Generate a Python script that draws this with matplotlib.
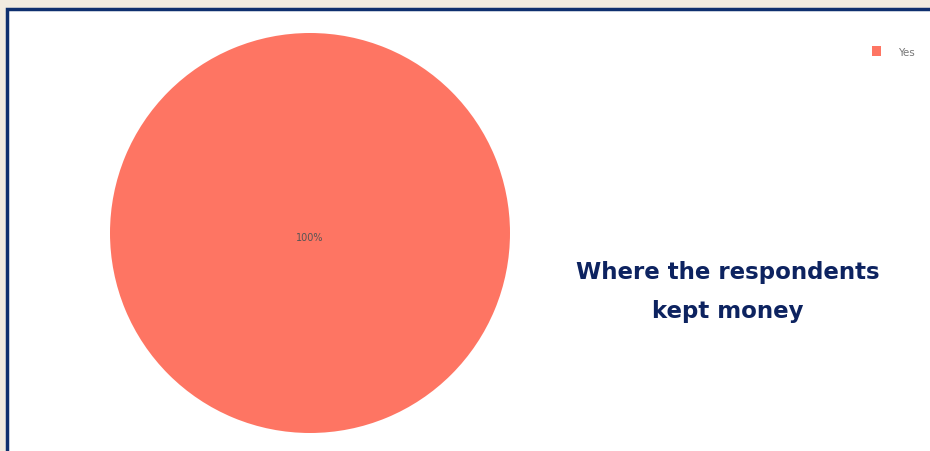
import matplotlib.pyplot as plt
from matplotlib.patches import Rectangle

labels = ["Yes"]
values = [100]
colors = ["#fe7563"]
title = "Where the respondents\nkept money"

fig = plt.figure(figsize=(9.3, 4.52), dpi=100)
fig.patch.set_facecolor("#f1ebe0")

# white panel with navy frame
fig.patches.append(Rectangle((7 / 930, -0.05), 1.0, (452 - 10) / 452 + 0.05,
                             transform=fig.transFigure, facecolor="white",
                             edgecolor="#0e2f6e", linewidth=2.5, zorder=-1))

ax = fig.add_axes([110 / 930, (452 - 434) / 452, 400 / 930, 400 / 452])
ax.set_zorder(2)
ax.patch.set_alpha(0)
wedges, texts, autotexts = ax.pie(values, colors=colors, autopct="%1.0f%%",
                                  labeldistance=None, pctdistance=0.0,
                                  textprops={"fontsize": 7, "color": "#555555"})
autotexts[0].set_position((0, -0.02))
ax.set_xlim(-1, 1)
ax.set_ylim(-1, 1)
ax.set_aspect("equal")

leg = fig.legend(wedges, labels, loc="upper left", bbox_to_anchor=(863 / 930, 1 - 38 / 452),
                 frameon=False, fontsize=7.5, handlelength=0.8, handleheight=1.0,
                 labelcolor="#777777", handletextpad=1.7)
leg.set_zorder(3)

fig.text(728 / 930, 1 - 292 / 452, title, ha="center", va="center",
         fontsize=16.5, fontweight="bold", color="#0d2360", family="DejaVu Sans",
         linespacing=1.9, zorder=3)

fig.savefig("out.png", dpi=100)
